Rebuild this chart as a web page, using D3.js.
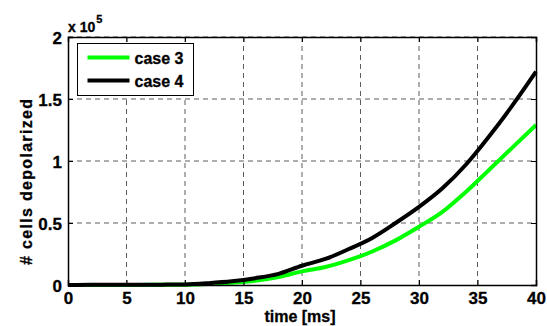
<!DOCTYPE html>
<html>
<head>
<meta charset="utf-8">
<script src="https://cdn.jsdelivr.net/npm/d3@7"></script>
<style>
  body { margin: 0; background: #fff; }
  svg text { font-family: 'Liberation Sans', Arial, sans-serif; font-weight: bold; fill: #000; stroke: #000; stroke-width: 0.3px; }
</style>
</head>
<body>
<svg id="chart" width="547" height="326"></svg>
<script>
const times = [0, 2, 4, 6, 8, 10, 12, 14, 16, 18, 20, 22, 24, 26, 28, 30, 32, 34, 36, 38, 40]
// values in units of 1e5 cells
const case3 = [0, 0.001, 0.001, 0.001, 0.002, 0.003, 0.008, 0.018, 0.035, 0.065, 0.11, 0.145, 0.2, 0.27, 0.36, 0.47, 0.59, 0.75, 0.93, 1.11, 1.29]
const case4 = [0, 0.002, 0.002, 0.002, 0.003, 0.005, 0.015, 0.03, 0.055, 0.09, 0.155, 0.21, 0.29, 0.38, 0.5, 0.63, 0.78, 0.97, 1.2, 1.45, 1.72]
const xTicks = [0, 5, 10, 15, 20, 25, 30, 35, 40]
const yTicks = [0, 0.5, 1, 1.5, 2]

const series = [
  { name: 'case 3', color: '#00ff00', values: case3 },
  { name: 'case 4', color: '#000000', values: case4 }
]

const c = { left: 68, right: 536, top: 37, bottom: 285 }
const svg = d3.select('#chart')

const x = d3.scaleLinear([0, 40], [c.left, c.right])
const y = d3.scaleLinear([0, 2], [c.bottom, c.top])

// Grid
const grid = svg.append('g').attr('stroke', '#333').attr('stroke-width', 0.8).attr('stroke-dasharray', '5,4')
grid.selectAll('line.v').data(xTicks.slice(1, -1)).join('line')
  .attr('x1', (d) => x(d)).attr('x2', (d) => x(d)).attr('y1', c.top).attr('y2', c.bottom)
grid.selectAll('line.h').data(yTicks.slice(1)).join('line')
  .attr('y1', (d) => y(d)).attr('y2', (d) => y(d)).attr('x1', c.left).attr('x2', c.right)

// Lines
const line = d3.line().x((d, i) => x(times[i])).y((d) => y(d)).curve(d3.curveMonotoneX)
svg.append('g').selectAll('path').data(series).join('path')
  .attr('fill', 'none')
  .attr('stroke', (d) => d.color)
  .attr('stroke-width', 4)
  .attr('stroke-linejoin', 'round')
  .attr('d', (d) => line(d.values))

// Axes
const xAxis = d3.axisBottom(x).tickValues(xTicks).tickSize(-5).tickFormat(d3.format('d'))
const yAxis = d3.axisLeft(y).tickValues(yTicks).tickSize(-5).tickFormat((d) => String(d))

const xAxisEl = svg.append('g').attr('transform', `translate(0,${ c.bottom })`).call(xAxis)
const yAxisEl = svg.append('g').attr('transform', `translate(${ c.left },0)`).call(yAxis)
svg.append('g').attr('transform', `translate(0,${ c.top })`)
  .call(d3.axisTop(x).tickValues(xTicks).tickSize(-5).tickFormat(''))
svg.append('g').attr('transform', `translate(${ c.right },0)`)
  .call(d3.axisRight(y).tickValues(yTicks).tickSize(-5).tickFormat(''))

svg.selectAll('.domain').attr('stroke', '#000').attr('stroke-width', 1.5)
svg.selectAll('.tick line').attr('stroke', '#000')
svg.selectAll('.tick text').style('font-size', '17px')
xAxisEl.selectAll('.tick text').attr('dy', null).attr('y', 19)
yAxisEl.selectAll('.tick text').attr('x', -6).attr('dy', '0.36em')

// Labels
svg.append('text').attr('x', (c.left + c.right) / 2 - 2).attr('y', 322)
  .attr('text-anchor', 'middle').style('font-size', '16px').text('time [ms]')
svg.append('text').attr('transform', 'translate(32,182) rotate(-90)')
  .attr('text-anchor', 'middle').style('font-size', '16px')
  .attr('textLength', 166).attr('lengthAdjust', 'spacing')
  .text('# cells depolarized')
const exp = svg.append('text').attr('x', 68).attr('y', 32).style('font-size', '14px')
exp.append('tspan').text('x 10')
exp.append('tspan').attr('dx', 1).attr('dy', -9).style('font-size', '11px').text('5')

// Legend
const lg = svg.append('g').attr('transform', 'translate(77.5,43.5)')
lg.append('rect').attr('width', 116).attr('height', 52).attr('fill', '#fff').attr('stroke', '#000').attr('stroke-width', 1)
const items = lg.selectAll('g').data(series).join('g')
  .attr('transform', (d, i) => `translate(0,${ 14 + i * 23 })`)
items.append('line').attr('x1', 10).attr('x2', 52).attr('stroke', (d) => d.color).attr('stroke-width', 4)
items.append('text').attr('x', 57).attr('y', 6).style('font-size', '16px').text((d) => d.name)
</script>
</body>
</html>
